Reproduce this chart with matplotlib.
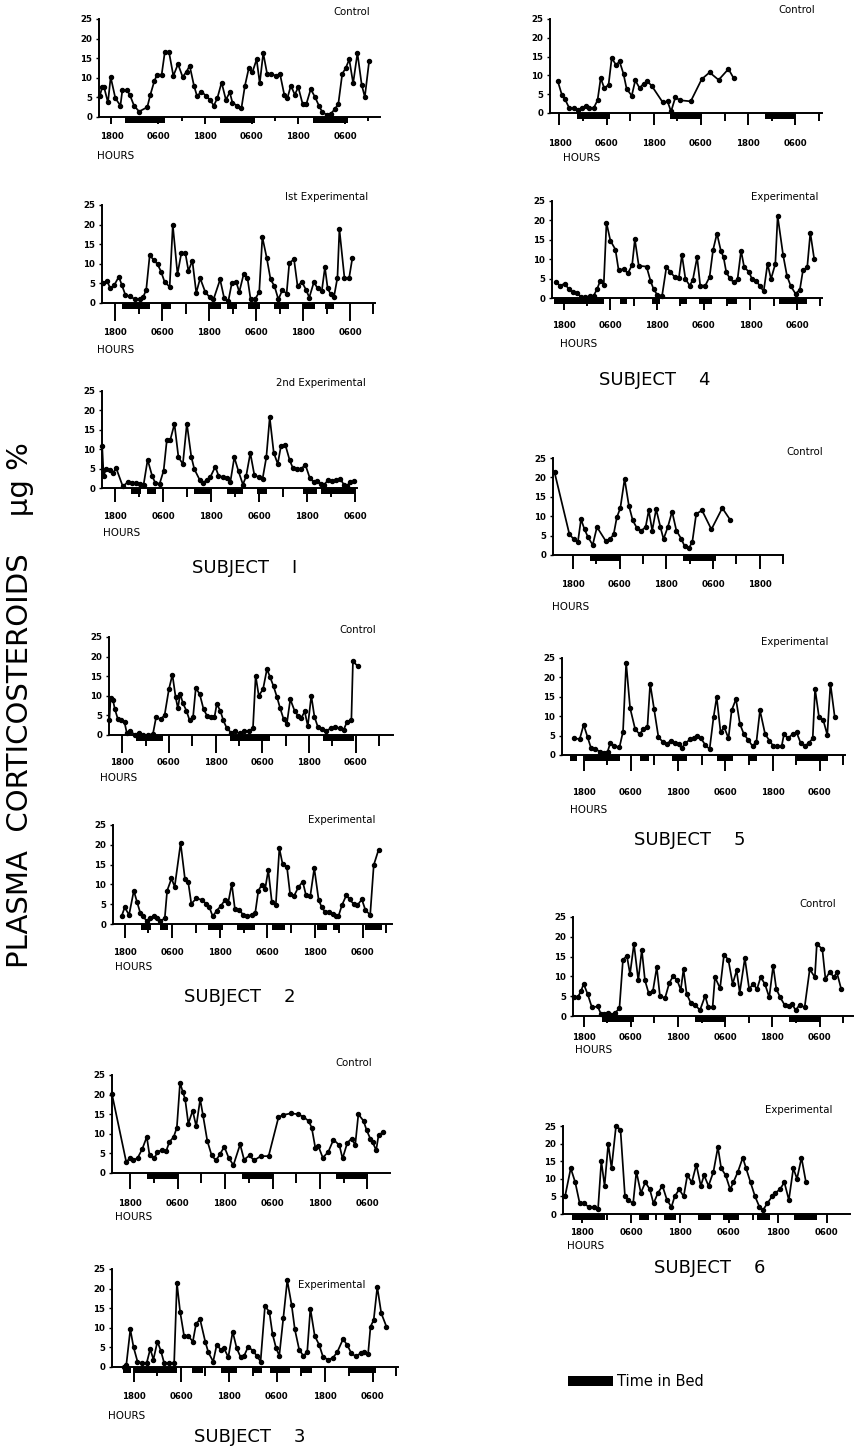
import matplotlib
matplotlib.use('Agg')
import matplotlib.pyplot as plt

W, H = 855, 1451

# ---- data: (hour, plasma corticosteroids ug %) ; hour 18 = first 1800 ----
s1_control = [(15.0,5.3),(15.6,7.6),(16.1,7.6),(17.1,3.7),(17.8,10.2),(19.0,4.8),(20.3,2.9),(20.8,6.8),
              (22.0,6.8),(22.7,5.7),(23.8,2.9),(25.1,1.4),(27.2,2.5),(28.0,5.7),(29.0,9.1),(29.7,10.8),
              (30.9,10.8),(31.7,16.5),(32.8,16.5),(33.9,10.5),(35.1,13.5),(36.3,10.2),(37.3,11.6),(38.1,13.1),
              (39.2,8.0),(40.0,5.3),(41.1,6.5),(42.4,5.3),(43.3,4.4),(44.3,2.9),(45.2,4.8),(46.3,8.8),
              (47.4,4.4),(48.4,6.3),(49.1,3.6),(50.3,2.9),(51.4,2.3),(52.3,8.0),(53.3,12.5),(54.2,11.4),
              (55.3,14.7),(56.1,8.6),(57.0,16.3),(58.0,11.0),(59.1,11.0),(60.2,10.5),(61.3,11.0),(62.4,5.7),
              (63.2,4.8),(64.1,8.0),(65.1,5.7),(66.0,7.6),(67.1,3.4),(68.1,3.4),(69.2,7.1),(70.3,5.1),
              (71.3,2.9),(72.2,1.2),(73.3,0.6),(74.3,0.8),(75.4,2.0),(76.3,3.4),(77.3,11.0),(78.2,12.5),
              (79.1,14.7),(80.1,8.6),(81.2,16.3),(82.3,8.2),(83.1,5.1),(84.2,14.2)]
s1_control_bed = [(21.4,10.3),(45.9,8.9),(69.8,9.0)]

s1_exp1 = [(14.9,5.1),(15.9,5.7),(16.7,3.7),(17.7,4.5),(18.9,6.7),(19.7,4.5),(20.6,2.0),(21.8,1.7),
           (23.1,0.9),(24.2,1.1),(25.1,1.5),(25.9,3.3),(26.8,12.2),(27.8,11.0),(28.8,9.9),(29.7,8.0),
           (30.6,5.4),(31.9,4.1),(32.7,19.9),(33.9,7.4),(34.9,12.8),(35.9,12.8),(36.7,8.2),(37.7,10.8),
           (38.7,2.6),(39.7,6.3),(41.0,2.8),(42.1,1.5),(43.1,0.9),(44.8,6.0),(45.8,1.4),(46.9,0.5),
           (47.8,5.1),(48.9,5.4),(49.7,2.8),(50.8,7.3),(51.8,6.3),(52.6,0.9),(53.7,0.9),(54.8,2.8),
           (55.6,16.8),(56.7,11.6),(57.7,6.0),(58.7,4.3),(59.7,0.9),(60.7,3.3),(61.8,2.4),(62.5,10.3),
           (63.7,11.1),(64.6,4.3),(65.7,5.4),(66.8,3.3),(67.6,1.4),(68.8,5.4),(69.7,3.7),(70.8,3.1),
           (71.6,9.1),(72.3,3.7),(73.1,2.2),(73.9,1.5),(74.8,6.5),(75.3,18.8),(76.6,6.3),(77.8,6.5),
           (78.6,11.4)]
s1_exp1_bed = [(19.7,7.2),(29.9,2.3),(42.0,3.0),(46.5,2.5),(52.0,3.0),(58.5,4.0),(66.0,3.0),(71.5,2.5)]

s1_exp2 = [(14.75,10.7),(15.1,3.2),(15.75,4.9),(16.75,4.7),(17.4,3.8),(18.25,5.1),(19.9,0.4),(21.1,1.5),
           (22.2,1.3),(23.25,1.3),(24.25,1.1),(25.1,0.9),(26.1,7.3),(27.2,3.2),(28.0,1.3),(29.1,1.1),
           (30.1,4.5),(30.9,12.4),(31.75,12.4),(32.8,16.5),(33.8,7.9),(34.9,6.2),(35.9,16.6),(37.0,8.1),
           (37.75,4.9),(39.1,2.1),(39.9,1.3),(40.9,2.1),(41.75,2.8),(43.0,5.5),(43.8,3.2),(44.9,2.8),
           (45.9,2.6),(46.75,1.5),(47.75,7.9),(48.8,4.3),(49.9,0.9),(50.7,3.0),(51.75,9.0),(52.75,3.4),
           (53.8,2.8),(54.8,2.3),(55.75,7.9),(56.6,18.2),(57.6,9.1),(58.6,6.2),(59.4,10.8),(60.5,11.1),
           (61.6,7.1),(62.4,5.1),(63.4,4.9),(64.4,4.9),(65.5,6.0),(66.6,2.6),(67.6,1.5),(68.4,1.7),
           (69.4,1.1),(70.25,0.9),(71.2,2.1),(72.2,1.7),(73.25,2.0),(74.25,2.3),(75.1,0.9),(75.9,0.6),
           (76.75,1.5),(77.75,1.7)]
s1_exp2_bed = [(21.9,2.5),(26.0,2.3),(37.6,4.2),(46.0,4.0),(53.4,2.5),(65.0,3.5),(69.5,8.5)]

s2_control = [(14.7,3.8),(15.0,9.4),(15.6,9.0),(16.1,6.6),(16.9,4.0),(17.7,3.7),(18.6,3.2),(19.2,0.4),
              (20.1,1.1),(21.2,0.0),(22.3,0.6),(23.3,0.0),(24.6,0.0),(25.9,0.3),(26.7,4.5),(27.9,4.0),
              (28.9,5.1),(30.0,11.7),(30.9,15.4),(31.7,9.8),(32.3,6.8),(32.9,10.5),(33.6,8.1),(34.5,6.2),
              (35.3,3.8),(36.2,4.5),(36.9,11.9),(37.9,10.5),(38.9,6.6),(39.8,4.9),(40.9,4.5),(41.7,4.5),
              (42.3,7.9),(43.2,6.2),(44.0,3.7),(44.9,1.7),(46.0,0.6),(46.9,0.9),(48.2,0.4),(49.4,0.9),
              (50.7,1.1),(51.6,1.7),(52.3,15.1),(53.1,10.0),(54.2,11.7),(55.2,16.8),(56.0,14.8),(56.9,12.4),
              (57.8,9.6),(58.6,6.8),(59.5,4.0),(60.3,2.8),(61.2,9.1),(62.3,6.2),(63.2,4.9),(64.0,4.3),
              (64.9,6.0),(65.7,2.3),(66.6,10.0),(67.4,4.7),(68.3,2.0),(69.4,1.5),(70.4,1.1),(71.7,1.7),
              (72.8,2.0),(73.9,1.7),(74.9,1.3),(75.8,3.4),(76.9,3.8),(77.3,18.8),(78.6,17.5)]
s2_control_bed = [(21.5,7.0),(45.6,10.3),(69.6,8.1)]

s2_exp = [(17.2,1.9),(18.0,4.2),(19.1,2.3),(20.3,8.4),(21.1,5.6),(21.9,2.9),(22.6,2.0),(23.5,0.8),
          (24.3,1.4),(25.3,2.0),(26.2,1.4),(27.0,0.8),(28.1,1.4),(28.7,8.4),(29.8,11.5),(30.6,9.4),
          (32.1,20.4),(33.2,11.3),(34.0,10.7),(34.8,5.1),(36.1,6.5),(37.4,6.1),(38.6,5.1),(39.3,4.4),
          (40.2,1.9),(41.2,3.4),(42.2,4.5),(43.3,6.1),(44.1,5.4),(45.0,10.1),(45.8,3.7),(46.9,3.5),
          (47.9,2.3),(48.9,2.0),(50.0,2.3),(50.9,2.7),(51.7,8.4),(52.5,9.8),(53.4,8.8),(54.2,13.6),
          (55.1,5.6),(56.1,4.8),(57.0,19.1),(57.8,15.2),(58.9,14.5),(59.7,7.6),(60.7,7.1),(61.8,9.3),
          (62.9,10.7),(63.7,7.3),(64.8,7.1),(65.8,14.1),(66.9,6.1),(67.7,4.2),(68.5,3.1),(69.6,3.1),
          (70.5,2.5),(71.3,2.0),(71.9,2.0),(72.8,4.8),(73.9,7.3),(74.7,6.2),(75.7,5.1),(76.7,4.8),
          (77.8,6.2),(78.7,3.5),(79.9,2.3),(80.8,14.9),(82.0,18.7)]
s2_exp_bed = [(22.2,2.5),(26.8,2.2),(39.0,3.9),(46.2,4.7),(55.1,3.3),(66.4,2.6),(70.5,1.7),(78.7,4.2)]

s3_control = [(13.4,20.1),(17.0,2.8),(18.0,3.9),(18.8,3.2),(19.9,3.9),(21.0,6.0),(22.2,9.2),(22.9,4.5),
              (24.1,3.7),(24.9,5.4),(26.0,5.8),(27.1,5.6),(27.9,7.9),(29.0,9.2),(29.8,11.6),(30.6,23.0),
              (31.3,20.7),(31.9,18.8),(32.7,12.6),(33.8,15.9),(34.7,11.9),(35.7,18.8),(36.4,14.8),(37.5,8.2),
              (38.6,4.5),(39.7,3.2),(40.7,4.8),(41.8,6.7),(42.9,3.9),(44.1,2.0),(45.8,7.3),(46.8,3.4),
              (48.2,4.5),(49.3,3.2),(51.0,4.3),(53.0,4.3),(55.5,14.2),(56.6,14.8),(58.6,15.2),(60.5,15.0),
              (61.8,14.3),(63.1,13.3),(63.9,11.6),(64.8,6.5),(65.6,6.8),(66.7,3.9),(68.1,5.4),(69.4,8.5),
              (70.9,7.1),(71.7,3.7),(72.9,7.7),(74.0,8.8),(74.9,7.1),(75.7,15.0),(77.0,13.3),(77.8,10.9),
              (78.7,8.8),(79.3,7.9),(80.2,5.8),(80.8,9.6),(82.0,10.5)]
s3_control_bed = [(22.2,8.0),(46.2,7.9),(70.1,8.1)]

s3_exp = [(15.7,0.0),(16.2,0.6),(17.2,9.6),(18.0,5.1),(19.0,1.4),(20.1,1.0),(21.3,1.0),(22.2,4.6),
          (23.0,1.9),(24.0,6.5),(24.9,4.0),(25.7,1.0),(27.0,1.0),(28.2,1.0),(28.9,21.4),(29.7,14.1),
          (30.7,7.9),(31.8,7.8),(32.9,6.5),(33.7,11.0),(34.7,12.2),(36.0,6.5),(36.8,3.7),(38.0,1.4),
          (38.9,5.7),(39.9,4.4),(40.7,4.8),(41.8,2.5),(42.9,9.0),(43.9,4.8),(44.9,2.5),(45.7,2.7),
          (46.8,5.2),(48.1,4.0),(48.9,2.9),(49.9,1.4),(51.0,15.5),(52.1,14.1),(52.9,8.4),(53.8,4.8),
          (54.6,2.9),(55.6,12.4),(56.6,22.1),(57.7,15.8),(58.5,9.6),(59.6,4.4),(60.6,2.9),(61.6,3.7),
          (62.4,14.9),(63.5,7.9),(64.6,5.7),(65.6,2.5),(66.9,1.9),(68.0,2.3),(69.1,3.7),(70.6,7.1),
          (71.6,5.7),(72.7,3.5),(73.8,2.7),(75.0,3.5),(75.8,3.7),(76.9,3.4),(77.5,10.3),(78.3,12.0),
          (79.2,20.4),(80.2,13.7),(81.5,10.3)]
s3_exp_bed = [(15.3,2.0),(18.0,10.9),(32.6,2.9),(39.9,4.0),(47.7,2.5),(52.3,5.0),(60.0,2.7),(71.9,7.1)]

s4_control = [(17.6,8.4),(18.6,4.9),(19.4,3.7),(20.5,1.3),(21.6,1.3),(22.6,0.9),(23.7,1.3),(24.7,1.9),
              (25.6,1.3),(26.7,1.3),(27.7,3.4),(28.5,9.3),(29.4,6.6),(30.5,7.5),(31.3,14.6),(32.4,12.8),
              (33.3,13.7),(34.3,10.4),(35.1,6.4),(36.4,4.6),(37.3,8.7),(38.4,6.6),(39.4,7.8),(40.4,8.4),
              (41.5,7.2),(44.3,2.8),(45.5,3.1),(46.4,0.4),(47.5,4.2),(48.6,3.4),(51.4,3.1),(54.2,9.0),
              (56.2,10.8),(58.5,8.8),(61.0,11.7),(62.3,9.3)]
s4_control_bed = [(22.4,8.5),(46.2,8.0),(70.4,7.6)]

s4_exp = [(16.1,4.0),(17.1,3.2),(18.3,3.7),(19.3,2.3),(20.4,1.5),(21.4,1.3),(22.5,0.3),(23.6,0.3),
          (24.7,0.4),(25.7,0.6),(26.6,2.3),(27.4,4.5),(28.3,3.4),(29.0,19.4),(30.0,14.8),(31.3,12.5),
          (32.1,7.3),(33.4,7.4),(34.5,6.4),(35.6,8.5),(36.3,15.1),(37.3,8.3),(39.3,8.1),(40.3,4.5),
          (41.1,2.3),(42.0,0.9),(43.3,0.6),(44.4,7.9),(45.4,6.8),(46.5,5.4),(47.6,5.1),(48.4,11.1),
          (49.3,4.9),(50.4,3.2),(51.2,4.7),(52.3,10.5),(53.1,3.2),(54.4,3.2),(55.5,5.4),(56.4,12.4),
          (57.4,16.6),(58.4,12.2),(59.1,10.5),(59.8,6.6),(60.7,5.1),(61.7,4.0),(62.7,4.9),(63.6,12.2),
          (64.4,7.9),(65.6,6.8),(66.4,4.9),(67.5,4.3),(68.4,3.2),(69.4,1.7),(70.4,8.8),(71.3,4.9),
          (72.4,8.8),(73.0,21.1),(74.4,11.1),(75.4,5.7),(76.4,3.0),(77.6,1.1),(78.7,2.1),(79.5,7.1),
          (80.6,7.9),(81.4,16.8),(82.4,10.0)]
s4_exp_bed = [(15.4,12.9),(32.6,1.7),(40.7,2.1),(48.0,1.7),(52.7,3.4),(60.0,2.6),(73.3,7.3)]

s5_control = [(13.3,21.3),(17.1,5.4),(18.2,4.1),(19.3,3.4),(20.1,9.2),(21.0,6.6),(21.9,4.6),(23.1,2.6),
              (24.2,7.2),(26.4,3.7),(27.6,4.1),(28.5,5.4),(29.3,9.7),(30.2,12.1),(31.3,19.6),(32.4,12.7),
              (33.4,8.9),(34.5,6.9),(35.6,6.3),(36.7,7.2),(37.5,11.5),(38.4,6.3),(39.4,11.8),(40.5,7.2),
              (41.3,4.1),(42.4,7.2),(43.5,11.2),(44.6,6.3),(45.9,4.1),(46.7,2.3),(47.8,1.7),(48.7,3.4),
              (49.7,10.6),(51.2,11.5),(53.6,6.6),(56.4,12.1),(58.4,9.1)]
s5_control_bed = [(22.5,7.7),(46.3,8.5)]

s5_exp = [(15.6,4.3),(17.0,4.1),(18.0,7.8),(19.0,4.6),(19.9,1.7),(21.0,1.5),(22.1,0.9),(23.1,0.6),
          (24.1,0.9),(24.8,3.2),(25.8,2.3),(27.1,2.0),(28.0,6.0),(28.8,23.7),(29.8,12.1),(31.1,6.6),
          (32.2,5.4),(33.2,6.6),(34.2,7.2),(34.9,18.4),(35.9,11.8),(37.0,4.6),(38.1,3.4),(39.1,2.8),
          (40.1,3.7),(41.2,3.0),(42.1,2.8),(42.9,1.7),(43.8,3.0),(45.1,4.1),(46.1,4.3),(46.9,4.9),
          (47.8,4.3),(48.9,2.6),(50.0,1.5),(51.0,9.7),(51.8,14.9),(52.8,5.8),(53.7,7.2),(54.8,4.3),
          (55.6,11.5),(56.7,14.4),(57.7,8.0),(58.7,5.4),(59.8,3.9),(60.9,2.3),(61.9,3.4),(62.8,11.5),
          (64.1,5.4),(65.2,3.7),(66.2,2.3),(67.2,2.2),(68.3,2.2),(68.9,5.4),(69.9,4.3),(71.1,5.4),
          (72.1,5.8),(73.1,3.2),(74.2,2.3),(75.3,3.2),(76.2,4.3),(76.8,17.0),(77.8,9.7),(78.9,8.9),
          (79.9,5.2),(80.7,18.4),(81.8,9.7)]
s5_exp_bed = [(14.6,1.7),(18.4,8.9),(32.4,2.1),(40.4,3.8),(51.8,4.2),(59.8,2.2),(72.1,8.0)]

s6_control = [(15.5,4.7),(16.5,4.7),(17.3,6.2),(18.0,8.1),(19.0,5.6),(20.1,2.2),(21.6,2.4),(22.4,0.5),
              (23.2,0.5),(24.1,0.8),(24.9,0.3),(26.0,0.8),(27.1,1.9),(28.0,14.2),(29.0,15.2),(29.8,10.6),
              (30.8,18.2),(31.9,9.0),(32.8,16.7),(33.6,9.0),(34.5,5.9),(35.6,6.2),(36.6,12.3),(37.4,5.1),
              (38.7,4.5),(39.8,8.4),(40.8,10.1),(41.8,9.0),(42.7,6.6),(43.4,11.8),(44.2,5.6),(45.2,3.4),
              (46.3,2.8),(47.6,1.5),(48.9,5.1),(49.7,2.2),(50.8,2.2),(51.4,9.8),(52.7,7.0),(53.7,15.5),
              (54.8,14.2),(55.9,8.1),(56.9,11.5),(57.7,5.9),(59.0,14.6),(60.1,6.8),(61.1,8.1),(62.1,6.8),
              (63.0,9.8),(64.1,8.1),(65.2,4.7),(66.2,12.7),(67.0,6.8),(68.0,4.7),(69.1,2.8),(70.2,2.5),
              (71.1,3.0),(71.9,1.4),(72.9,2.8),(74.2,2.2),(75.5,11.8),(76.8,9.8),(77.3,18.2),(78.7,16.9),
              (79.5,9.3),(80.6,11.2),(81.6,9.8),(82.4,11.0),(83.5,6.8)]
s6_control_bed = [(22.6,8.1),(46.3,8.0),(70.2,7.8)]

s6_exp = [(13.8,5.0),(15.2,13.0),(16.3,9.0),(17.4,3.0),(18.5,3.0),(19.6,2.0),(20.8,2.0),(21.9,1.5),
          (22.7,15.0),(23.5,8.0),(24.4,20.0),(25.2,13.0),(26.3,25.0),(27.4,24.0),(28.5,5.0),(29.3,4.0),
          (30.5,3.0),(31.3,12.0),(32.4,6.0),(33.5,9.0),(34.6,7.0),(35.5,3.0),(36.6,6.0),(37.7,8.0),
          (38.8,4.0),(39.9,2.0),(40.7,5.0),(41.8,7.0),(42.9,5.0),(43.8,11.0),(44.9,9.0),(46.0,14.0),
          (47.1,8.0),(47.9,11.0),(49.0,8.0),(50.2,12.0),(51.3,19.0),(52.1,13.0),(53.2,11.0),(54.3,7.0),
          (55.1,9.0),(56.2,12.0),(57.4,16.0),(58.2,13.0),(59.3,9.0),(60.4,5.0),(61.5,2.0),(62.3,1.0),
          (63.4,3.0),(64.6,5.0),(65.4,6.0),(66.5,7.0),(67.6,9.0),(68.7,4.0),(69.8,13.0),(70.7,10.0),
          (71.8,16.0),(72.9,9.0)]
s6_exp_bed = [(15.5,8.0),(32.0,2.5),(38.0,3.0),(46.5,3.0),(52.5,4.0),(61.0,3.0),(70.0,5.5)]

tick_names = ['1800', '0600']


def px(x, y):
    return x / W, 1 - y / H


def panel(data, bed, box, xlim, tick_len, lab_off):
    left, top, right, bottom = box
    ax = fig.add_axes([left / W, 1 - bottom / H, (right - left) / W, (bottom - top) / H])
    t = [p[0] for p in data]
    v = [p[1] for p in data]
    ax.plot(t, v, '-o', color='k', lw=1.25, ms=2.9, clip_on=False, zorder=3)
    ax.broken_barh(bed, (-1.6, 1.6), facecolors='k', clip_on=False, zorder=2)
    ax.set_xlim(xlim)
    ax.set_ylim(0, 25)
    ax.patch.set_alpha(0)
    for s in ['top', 'right']:
        ax.spines[s].set_visible(False)
    for s in ['left', 'bottom']:
        ax.spines[s].set_linewidth(1.4)
    major = [h for h in range(18, 100, 12) if xlim[0] <= h <= xlim[1]]
    minor = [h for h in range(24, 100, 12) if xlim[0] <= h <= xlim[1]]
    ax.set_xticks(major)
    ax.set_xticklabels([tick_names[i % 2] for i in range(len(major))])
    ax.set_xticks(minor, minor=True)
    ax.tick_params(axis='x', which='major', length=tick_len * 0.72, width=1.4,
                   pad=max(lab_off - tick_len - 4, 1) * 0.72, labelsize=6.2)
    ax.tick_params(axis='x', which='minor', length=tick_len * 0.45, width=1.4)
    ax.set_yticks([0, 5, 10, 15, 20, 25])
    ax.tick_params(axis='y', length=2.5, width=1.0, pad=2.5, labelsize=6.2)
    for lab in ax.get_xticklabels() + ax.get_yticklabels():
        lab.set_fontweight('bold')
    return ax


fig = plt.figure(figsize=(W / 100, H / 100), dpi=100)

# left column
panel(s1_control, s1_control_bed, (99, 19, 380, 117), (14.8, 87.0), 7, 19)
panel(s1_exp1, s1_exp1_bed, (102, 205, 375, 303), (14.6, 84.4), 18, 29)
panel(s1_exp2, s1_exp2_bed, (102, 391, 357, 488), (14.7, 78.4), 14, 28)
panel(s2_control, s2_control_bed, (109, 637, 393, 735), (14.6, 87.6), 18, 27)
panel(s2_exp, s2_exp_bed, (113, 825, 392, 924), (15.05, 85.4), 14, 28)
panel(s3_control, s3_control_bed, (112, 1075, 390, 1173), (13.4, 83.7), 16, 30)
panel(s3_exp, s3_exp_bed, (112, 1269, 398, 1367), (12.6, 84.4), 15, 29)
# right column
panel(s4_control, s4_control_bed, (550, 19, 822, 113), (15.6, 84.8), 12, 30)
panel(s4_exp, s4_exp_bed, (552, 201, 822, 298), (15.0, 84.4), 12, 27)
panel(s5_control, s5_control_bed, (553, 458, 783, 555), (12.9, 72.0), 14, 29)
panel(s5_exp, s5_exp_bed, (562, 658, 845, 755), (12.5, 84.4), 16, 37)
panel(s6_control, s6_control_bed, (573, 917, 853, 1016), (15.3, 86.5), 11, 21)
panel(s6_exp, s6_exp_bed, (563, 1126, 850, 1214), (13.3, 83.7), 9, 18)

# panel titles
titles = [(370, 12, 'Control'), (368, 197, 'Ist Experimental'), (366, 383, '2nd Experimental'),
          (376, 630, 'Control'), (375, 820, 'Experimental'), (372, 1063, 'Control'),
          (365, 1285, 'Experimental'), (815, 10, 'Control'), (818, 197, 'Experimental'),
          (823, 452, 'Control'), (828, 642, 'Experimental'), (836, 904, 'Control'),
          (832, 1110, 'Experimental')]
for x, y, s in titles:
    fig.text(*px(x, y), s, ha='right', va='center', fontsize=7.3)

hours = [(97, 156), (97, 350), (103, 533), (100, 778), (115, 967), (115, 1217), (108, 1416),
         (563, 158), (560, 344), (552, 607), (570, 810), (575, 1050), (567, 1246)]
for x, y in hours:
    fig.text(*px(x, y), 'HOURS', ha='left', va='center', fontsize=7.5)

subjects = [(245, 568, 'SUBJECT    I'), (240, 997, 'SUBJECT    2'), (250, 1437, 'SUBJECT    3'),
            (655, 380, 'SUBJECT    4'), (690, 840, 'SUBJECT    5'), (710, 1268, 'SUBJECT    6')]
for x, y, s in subjects:
    fig.text(*px(x, y), s, ha='center', va='center', fontsize=13)

fig.text(*px(20, 705), 'PLASMA  CORTICOSTEROIDS    \u03bcg %', rotation=90,
         ha='center', va='center', fontsize=21)

# legend for time in bed
lg = fig.add_axes([568 / W, 1 - 1387 / H, 45 / W, 12 / H])
lg.broken_barh([(0, 1)], (0.1, 0.8), facecolors='k')
lg.set_xlim(0, 1)
lg.set_ylim(0, 1)
lg.axis('off')
fig.text(*px(617, 1381), 'Time in Bed', ha='left', va='center', fontsize=10.5)

fig.savefig('out.png', dpi=100)
